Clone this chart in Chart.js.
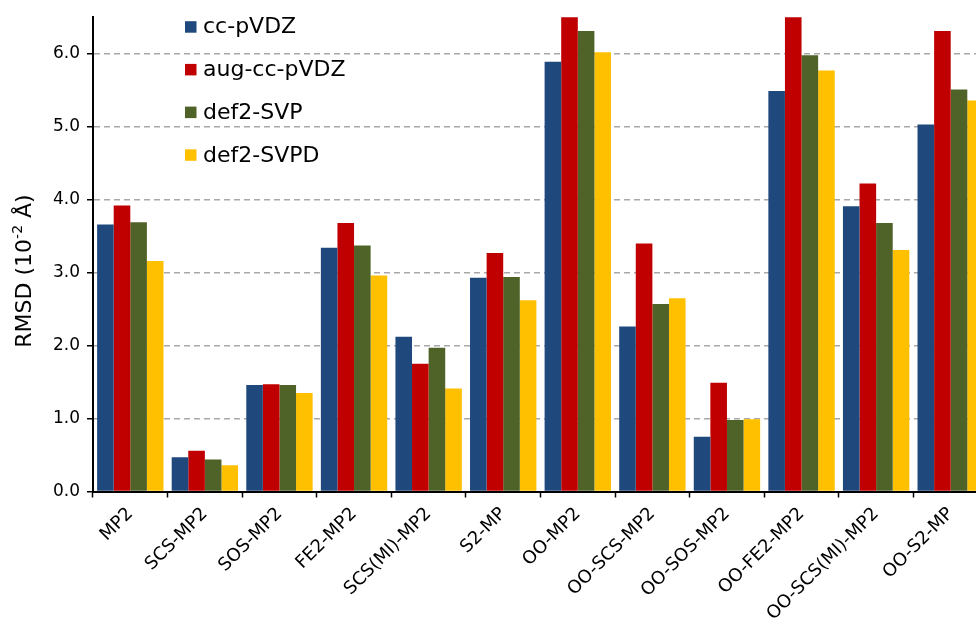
<!DOCTYPE html>
<html>
<head>
<meta charset="utf-8">
<script src="https://cdn.jsdelivr.net/npm/chart.js@4.4.1/dist/chart.umd.min.js"></script>
<style>
  html, body { margin: 0; padding: 0; overflow: hidden; background: #fff; width: 976px; height: 620px; }
  #wrap { position: absolute; left: 0; top: 0; width: 992px; height: 620px; }
</style>
</head>
<body>
<div id="wrap"><canvas id="c" width="992" height="620"></canvas></div>
<script>
// RMSD of optimized geometries (in 10^-2 Å) per method and basis set
const methods = ['MP2', 'SCS-MP2', 'SOS-MP2', 'FE2-MP2', 'SCS(MI)-MP2', 'S2-MP',
                 'OO-MP2', 'OO-SCS-MP2', 'OO-SOS-MP2', 'OO-FE2-MP2', 'OO-SCS(MI)-MP2', 'OO-S2-MP'];
const basisSets = ['cc-pVDZ', 'aug-cc-pVDZ', 'def2-SVP', 'def2-SVPD'];

const ccPVDZ    = [3.66, 0.47, 1.46, 3.34, 2.12, 2.93, 5.89, 2.26, 0.75, 5.49, 3.91, 5.03];
// OO-MP2 and OO-FE2-MP2 run past the top of the axis (6.5)
const augCcPVDZ = [3.92, 0.56, 1.47, 3.68, 1.75, 3.27, 6.90, 3.40, 1.49, 6.85, 4.22, 6.31];
const def2SVP   = [3.69, 0.44, 1.46, 3.37, 1.97, 2.94, 6.31, 2.57, 0.98, 5.98, 3.68, 5.51];
const def2SVPD  = [3.16, 0.36, 1.35, 2.96, 1.41, 2.62, 6.02, 2.65, 0.99, 5.77, 3.31, 5.36];

const yTickValues = [0, 1, 2, 3, 4, 5, 6];
const yMax = 6.5;

const seriesColors = ['#1F497D', '#C00000', '#4F6228', '#FFC000'];
const FONT = 'DejaVu Sans, Liberation Sans, Arial, sans-serif';

// Vertical legend box in the upper-left of the plot
const legendPlugin = {
  id: 'cornerLegend',
  afterDraw(chart) {
    const ctx = chart.ctx;
    ctx.save();
    ctx.font = '22px ' + FONT;
    ctx.textBaseline = 'middle';
    ctx.textAlign = 'left';
    chart.data.datasets.forEach((ds, i) => {
      const cy = 26.7 + i * 42.7;
      ctx.fillStyle = ds.backgroundColor;
      ctx.fillRect(185, cy - 5.5, 11.5, 11.5);
      ctx.fillStyle = '#000';
      ctx.fillText(ds.label, 203, cy + 1);
    });
    ctx.restore();
  }
};

// Rotated y-axis title with a superscript exponent
const yTitlePlugin = {
  id: 'yTitle',
  afterDraw(chart) {
    const ctx = chart.ctx;
    const big = '22px ' + FONT, small = '14px ' + FONT;
    const parts = [
      { t: 'RMSD (10', f: big, dy: 0 },
      { t: '-2', f: small, dy: -9 },
      { t: ' Å)', f: big, dy: 0 }
    ];
    ctx.save();
    let total = 0;
    parts.forEach(p => { ctx.font = p.f; p.w = ctx.measureText(p.t).width; total += p.w; });
    ctx.translate(31, 271);
    ctx.rotate(-Math.PI / 2);
    ctx.fillStyle = '#000';
    ctx.textBaseline = 'alphabetic';
    ctx.textAlign = 'left';
    let x = -total / 2;
    parts.forEach(p => { ctx.font = p.f; ctx.fillText(p.t, x, p.dy); x += p.w; });
    ctx.restore();
  }
};

const datasets = [ccPVDZ, augCcPVDZ, def2SVP, def2SVPD].map((vals, i) => ({
  label: basisSets[i],
  data: vals,
  backgroundColor: seriesColors[i],
  borderWidth: 0,
  categoryPercentage: 0.89,
  barPercentage: 1.0
}));

new Chart(document.getElementById('c'), {
  type: 'bar',
  data: { labels: methods, datasets },
  options: {
    responsive: false,
    animation: false,
    devicePixelRatio: 1,
    layout: { padding: { top: 15, right: 4, left: 0, bottom: 0 } },
    plugins: {
      legend: { display: false },
      tooltip: { enabled: false }
    },
    scales: {
      x: {
        offset: true,
        grid: {
          display: true,
          offset: true,
          drawOnChartArea: false,
          color: '#000',
          tickLength: 6,
          tickWidth: 1.5
        },
        border: { display: true, color: '#000', width: 2 },
        ticks: {
          autoSkip: false,
          maxRotation: 45,
          minRotation: 45,
          padding: 6,
          color: '#000',
          font: { family: FONT, size: 18 }
        },
        afterFit(s) { s.height = 128.5; }
      },
      y: {
        min: 0,
        max: yMax,
        afterBuildTicks(s) { s.ticks = yTickValues.map(v => ({ value: v })); },
        grid: {
          color: '#a8a8a8',
          lineWidth: 1.5,
          tickColor: '#000',
          tickLength: 6,
          tickWidth: 1.5,
          tickBorderDash: []
        },
        border: { display: true, color: '#000', width: 2, dash: [6, 4] },
        ticks: {
          padding: 7,
          color: '#000',
          font: { family: FONT, size: 17 },
          callback: v => Number(v).toFixed(1)
        },
        afterFit(s) { s.width = 93; }
      }
    }
  },
  plugins: [legendPlugin, yTitlePlugin]
});
</script>
</body>
</html>
